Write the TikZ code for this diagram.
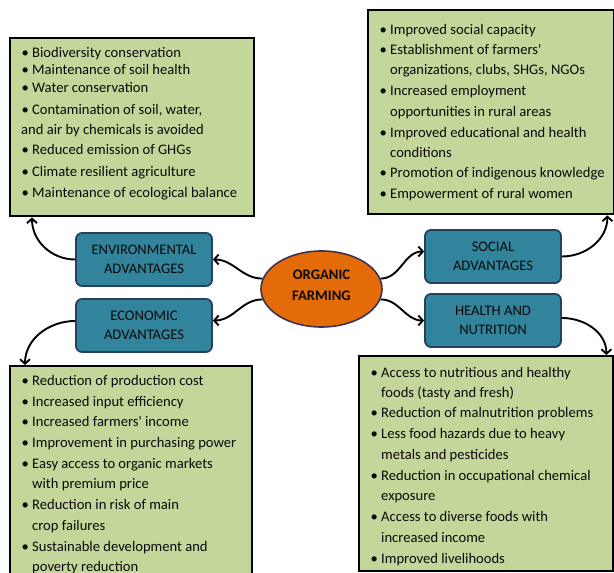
\documentclass[tikz,border=0pt]{standalone}
\usepackage{fontspec}
\setmainfont{Carlito}[Ligatures=TeXOff]
\usetikzlibrary{arrows.meta,shapes.geometric}
\definecolor{gfill}{HTML}{C4D79B}
\definecolor{tfill}{HTML}{31849B}
\definecolor{tdraw}{HTML}{254061}
\definecolor{ofill}{HTML}{E36C09}
\definecolor{odraw}{HTML}{403152}
\definecolor{txt}{HTML}{0A0A0A}
\newcommand\bul{\llap{•\hspace{3.2pt}}}
\begin{document}
\begin{tikzpicture}[x=1pt,y=1pt,
  gbox/.style={draw=black,line width=2.4pt,fill=gfill,inner sep=0,anchor=north west},
  tbox/.style={draw=tdraw,line width=1.8pt,fill=tfill,rounded corners=6pt,minimum width=136pt,minimum height=53pt,inner sep=0,align=center,text=txt,font=\fontsize{14.6}{19}\selectfont},
  li/.style={anchor=base west,inner sep=0,text=txt,font=\fontsize{14.6}{17}\selectfont},
  arr/.style={draw=black,line width=1.9pt,-{Straight Barb[length=4.5pt,width=10pt,line width=1.9pt]}}]
\useasboundingbox (0,0) rectangle (614,573);
% green boxes
\node[gbox,minimum width=244pt,minimum height=178pt] (envbox) at (9,536) {};
\node[gbox,minimum width=246pt,minimum height=204pt] (socbox) at (367,564) {};
\node[gbox,minimum width=242pt,minimum height=228pt] (ecobox) at (9,208) {};
\node[gbox,minimum width=254pt,minimum height=215pt] (heabox) at (358,218) {};
% middle boxes
\node[tbox] (envadv) at (144,313.5) {ENVIRONMENTAL\\ADVANTAGES};
\node[tbox] (ecoadv) at (144,247.5) {ECONOMIC\\ADVANTAGES};
\node[tbox] (socadv) at (493,316.5) {SOCIAL\\ADVANTAGES};
\node[tbox] (heaadv) at (493,252.5) {HEALTH AND\\NUTRITION};
\node[ellipse,draw=odraw,line width=1.6pt,fill=ofill,minimum width=121pt,minimum height=76pt,inner sep=0] (org) at (321.5,284) {};
\node[align=center,inner sep=0,text=txt,font=\fontsize{14.6}{21}\selectfont\bfseries] (orgtxt) at (321.5,287.5) {ORGANIC\\FARMING};
% environmental list
\node[li] (e1) at (32,515.5) {\bul Biodiversity conservation};
\node[li] (e2) at (32,498.5) {\bul Maintenance of soil health};
\node[li] (e3) at (32,480.5) {\bul Water conservation};
\node[li] (e4) at (32,458.5) {\bul Contamination of soil, water,};
\node[li] (e5) at (21,438.5) {and air by chemicals is avoided};
\node[li] (e6) at (32,418.5) {\bul Reduced emission of GHGs};
\node[li] (e7) at (32,396.5) {\bul Climate resilient agriculture};
\node[li] (e8) at (32,375.5) {\bul Maintenance of ecological balance};
% social list
\node[li] (s1) at (390,538.5) {\bul Improved social capacity};
\node[li] (s2) at (390,518.5) {\bul Establishment of farmers'};
\node[li] (s3) at (390,498.5) {organizations, clubs, SHGs, NGOs};
\node[li] (s4) at (390,477.5) {\bul Increased employment};
\node[li] (s5) at (390,456.5) {opportunities in rural areas};
\node[li] (s6) at (390,435.5) {\bul Improved educational and health};
\node[li] (s7) at (390,415.5) {conditions};
\node[li] (s8) at (390,395.5) {\bul Promotion of indigenous knowledge};
\node[li] (s9) at (390,374.5) {\bul Empowerment of rural women};
% economic list
\node[li] (c1) at (32,187.5) {\bul Reduction of production cost};
\node[li] (c2) at (32,166.5) {\bul Increased input efficiency};
\node[li] (c3) at (32,146.5) {\bul Increased farmers' income};
\node[li] (c4) at (32,125.5) {\bul Improvement in purchasing power};
\node[li] (c5) at (32,104.5) {\bul Easy access to organic markets};
\node[li] (c6) at (32,84.5) {with premium price};
\node[li] (c7) at (32,63.5) {\bul Reduction in risk of main};
\node[li] (c8) at (32,42.5) {crop failures};
\node[li] (c9) at (32,21.5) {\bul Sustainable development and};
\node[li] (c10) at (32,1.5) {poverty reduction};
% health list
\node[li] (h1) at (381,195.5) {\bul Access to nutritious and healthy};
\node[li] (h2) at (381,175.5) {foods (tasty and fresh)};
\node[li] (h3) at (381,155.5) {\bul Reduction of malnutrition problems};
\node[li] (h4) at (381,134.5) {\bul Less food hazards due to heavy};
\node[li] (h5) at (381,113.5) {metals and pesticides};
\node[li] (h6) at (381,92.5) {\bul Reduction in occupational chemical};
\node[li] (h7) at (381,72.5) {exposure};
\node[li] (h8) at (381,51.5) {\bul Access to diverse foods with};
\node[li] (h9) at (381,30.5) {increased income};
\node[li] (h10) at (381,9.5) {\bul Improved livelihoods};
% connectors
\draw[arr] (org.170) to[out=180,in=0] (envadv.east);
\draw[arr] (org.190) to[out=180,in=0] ([yshift=5pt]ecoadv.east);
\draw[arr] (org.10) to[out=0,in=180] ([yshift=5pt]socadv.west);
\draw[arr] (org.-10) to[out=0,in=180] (heaadv.west);
\draw[arr] (envadv.west) to[out=180,in=-90] ([xshift=23pt]envbox.south west);
\draw[arr] ([yshift=4.5pt]ecoadv.west) to[out=180,in=90] ([xshift=16pt]ecobox.north west);
\draw[arr] (socadv.east) to[out=0,in=-90] ([xshift=-8pt]socbox.south east);
\draw[arr] ([yshift=2.5pt]heaadv.east) to[out=0,in=90] ([xshift=-8pt]heabox.north east);
\end{tikzpicture}
\end{document}
